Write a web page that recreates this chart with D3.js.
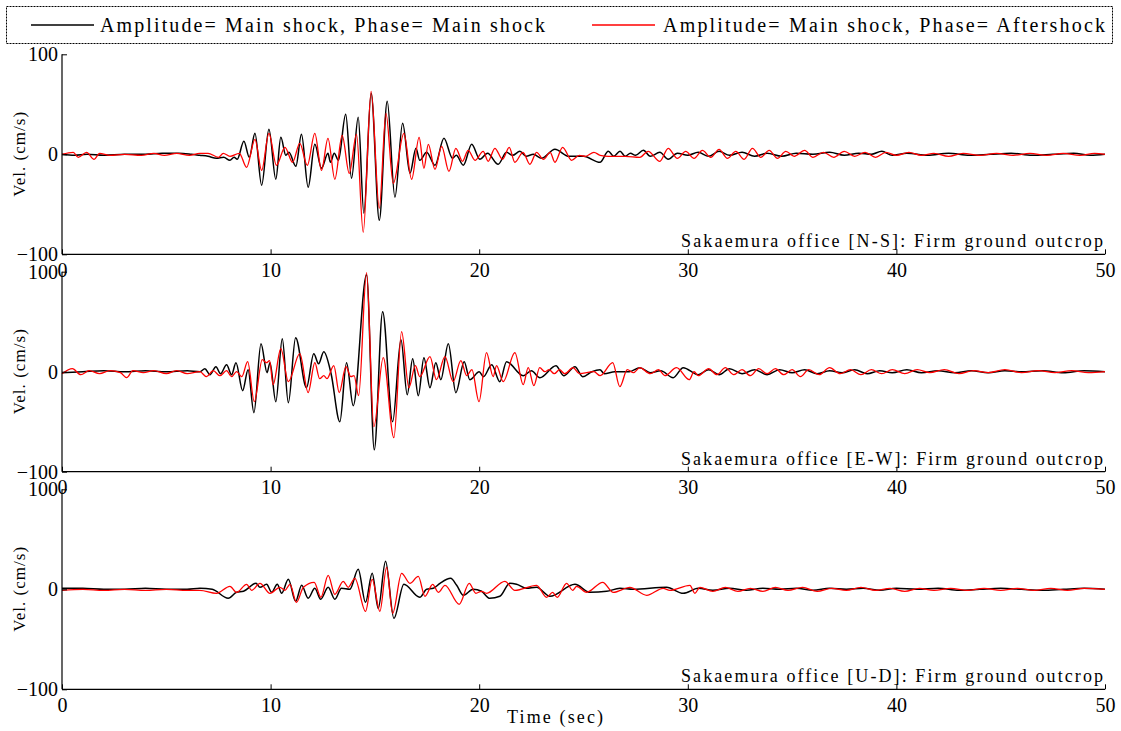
<!DOCTYPE html>
<html>
<head>
<meta charset="utf-8">
<script src="https://cdn.jsdelivr.net/npm/d3@7"></script>
<style>
  body { margin: 0; background: #fff; }
</style>
</head>
<body>
<svg id="chart" width="1121" height="731"></svg>
<script>
// Velocity waveforms, [time (s), velocity (cm/s)] at the turning points of each trace.
const nsMain = [[0,0],[0.6,-1],[1.2,0],[2.0,-1],[3.0,0],[4.0,0],[4.8,1],[5.6,1],[6.2,0],[6.6,-1],[7.0,-2],[7.4,-4],[7.75,-3],[8.05,-6],[8.25,-3],[8.4,-5],[8.72,13],[8.98,-3],[9.25,21],[9.57,-31],[9.92,25],[10.25,-25],[10.49,17],[10.73,-1],[10.88,2],[11.21,-12],[11.48,20],[11.8,-33],[12.12,10],[12.44,-14],[12.75,1],[12.87,-8],[13.05,1],[13.25,-6],[13.6,40],[13.88,-24],[14.2,37],[14.47,-59],[14.82,61],[15.21,-66],[15.59,53],[15.96,-43],[16.33,31],[16.68,-19],[16.97,6],[17.15,-6],[17.48,2],[17.88,-11],[18.31,16],[18.72,-4],[18.9,-1],[19.24,-11],[19.64,10],[20.03,-5],[20.4,1],[20.91,-10],[21.31,2],[21.6,-1],[21.95,3],[22.25,-2],[22.6,0],[22.99,-4],[23.63,5],[24.3,-2],[25.0,-2],[25.79,-8],[26.19,3],[26.45,-2],[26.75,3],[27.0,-2],[27.25,1],[27.5,-1],[27.87,4],[28.2,-2],[28.66,2],[29.06,-5],[29.5,1],[30.0,-1],[30.5,2],[31.0,-2],[31.5,3],[32.0,-1],[32.6,2],[33.2,-2],[33.8,1],[34.5,-2],[35.2,1],[36.0,0],[36.8,2],[37.5,-1],[38.2,1],[38.8,0],[39.3,3],[39.8,-1],[40.5,1],[41.5,-1],[42.5,1],[43.5,-1],[44.5,0],[45.5,1],[46.5,-1],[47.5,0],[48.5,1],[49.3,-1],[50,0]];
const nsAfter = [[0,0],[0.54,2],[0.78,-3],[1.18,2],[1.54,-5],[1.8,1],[2.3,-1],[3.0,0],[3.8,-1],[4.4,1],[4.9,-1],[5.5,1],[6.1,-1],[6.6,1],[7.0,1],[7.5,-3],[7.73,1],[8.05,-2],[8.5,1],[8.85,-13],[9.25,15],[9.57,-16],[9.92,21],[10.28,-11],[10.69,7],[11.05,-8],[11.4,11],[11.76,-11],[12.12,21],[12.44,-16],[12.75,16],[13.08,-25],[13.43,19],[13.77,-19],[14.12,20],[14.44,-78],[14.82,63],[15.21,-54],[15.53,41],[15.88,-29],[16.39,21],[16.76,-25],[17.12,17],[17.35,-14],[17.56,10],[17.88,-15],[18.2,8],[18.55,-17],[18.88,6],[19.2,-7],[19.47,4],[19.8,-6],[20.19,3],[20.43,-7],[20.75,6],[21.12,-5],[21.44,7],[21.71,-8],[22.1,2],[22.43,-10],[22.75,2],[23.08,-5],[23.4,2],[23.63,-8],[24.0,7],[24.43,-6],[24.8,-1],[25.1,-2],[25.5,2],[25.8,-1],[26.2,-2],[27.0,-2],[27.7,-3],[28.1,3],[28.66,-7],[29.06,6],[29.5,-4],[29.9,3],[30.3,-4],[30.7,4],[31.1,-3],[31.5,5],[31.9,-4],[32.3,3],[32.7,-5],[33.1,6],[33.5,-3],[33.9,4],[34.3,-4],[34.7,3],[35.1,-2],[35.6,4],[36.0,-3],[36.5,2],[37.0,-3],[37.5,3],[38.0,-2],[38.5,2],[39.0,-3],[39.5,2],[40.0,-1],[40.6,2],[41.2,-1],[41.8,1],[42.5,-2],[43.2,1],[44.0,-1],[44.8,1],[45.6,-1],[46.4,1],[47.2,-1],[48.0,1],[48.8,-1],[49.5,1],[50,0]];

const ewMain = [[0,-1],[1,0],[2,1],[3,0],[4,1],[5,0],[6,1],[6.61,0],[6.85,3],[7.09,-3],[7.38,5],[7.6,-2],[7.89,7],[8.13,-3],[8.34,9],[8.66,-19],[8.92,2],[9.2,-41],[9.54,28],[9.83,-1],[9.97,9],[10.25,-30],[10.56,33],[10.85,-31],[11.2,34],[11.72,-16],[12.07,18],[12.3,8],[12.55,20],[12.9,-2],[13.32,-50],[13.64,9],[13.96,-34],[14.6,97],[14.97,-78],[15.37,60],[15.85,-50],[16.25,32],[16.55,-23],[16.81,13],[17.08,-24],[17.35,14],[17.64,-16],[17.92,9],[18.16,-8],[18.52,28],[18.88,-21],[19.28,10],[19.55,-8],[20.0,0],[20.2,-5],[20.6,7],[20.99,-10],[21.31,10],[22.11,-4],[22.5,1],[22.91,-6],[23.68,6],[24.05,-4],[24.59,5],[24.96,-5],[25.4,0],[25.79,2],[26.0,-2],[26.5,0],[27.2,0],[27.7,4],[28.2,-1],[28.7,1],[29.3,-6],[29.78,4],[30.5,-3],[31.0,2],[31.5,-3],[32.0,3],[32.6,-2],[33.2,2],[33.8,-3],[34.4,2],[35.0,-1],[35.6,2],[36.2,-2],[36.8,1],[37.4,-1],[38.0,2],[38.6,-2],[39.2,1],[39.8,-1],[40.5,2],[41.2,-1],[42.0,1],[42.8,-1],[43.6,1],[44.4,-1],[45.2,1],[46.0,0],[47.0,1],[48.0,-1],[49.0,1],[50,0]];
const ewAfter = [[0,-2],[0.5,3],[0.9,-3],[1.3,1],[1.8,-2],[2.3,1],[2.8,-1],[3.1,-6],[3.4,1],[3.9,-1],[4.4,1],[5.0,-2],[5.5,1],[6.0,-2],[6.61,0],[6.93,-5],[7.25,1],[7.57,-4],[7.89,1],[8.13,-5],[8.37,0],[8.62,-5],[8.9,10],[9.22,-30],[9.6,12],[9.8,9],[9.95,11],[10.12,-13],[10.49,23],[10.85,-10],[11.4,18],[11.8,-21],[12.12,9],[12.35,-7],[12.55,-4],[12.7,-7],[13.03,6],[13.29,-21],[13.61,5],[13.85,-5],[14.0,-4],[14.22,-24],[14.6,99],[14.95,-55],[15.4,14],[15.91,-66],[16.28,40],[16.63,-16],[16.94,6],[17.15,-5],[17.64,15],[17.95,-8],[18.36,15],[18.75,-10],[19.12,11],[19.4,-4],[19.65,2],[19.99,-30],[20.35,19],[20.67,-5],[20.83,6],[21.15,-10],[21.71,19],[22.11,-13],[22.35,4],[22.62,-14],[22.9,4],[23.15,0],[23.35,2],[23.6,-2],[23.85,2],[24.1,-2],[24.5,4],[24.8,-2],[25.5,0],[25.8,-4],[26.4,9],[26.74,-15],[27.1,2],[27.4,-1],[27.7,4],[28.2,-2],[28.6,2],[28.9,-4],[29.46,4],[30.07,-8],[30.3,0],[30.5,-4],[31.0,3],[31.4,-3],[31.8,4],[32.2,-3],[32.6,2],[33.0,-4],[33.4,3],[33.8,-2],[34.2,3],[34.6,-3],[35.0,2],[35.4,-5],[35.8,2],[36.3,-3],[36.8,4],[37.3,-2],[37.8,2],[38.3,-3],[38.8,2],[39.3,-2],[39.8,2],[40.4,-2],[41.0,2],[41.6,-1],[42.3,2],[43.0,-2],[43.7,1],[44.4,-1],[45.2,2],[46.0,-1],[46.8,1],[47.6,-1],[48.4,1],[49.2,-1],[50,0]];

const udMain = [[0,1],[1,1],[2,0],[3,0],[4,1],[5,0],[6,0],[6.61,1],[7.2,0],[7.97,-9],[8.37,-3],[8.7,-2],[9.3,6],[9.49,2],[9.81,5],[10.05,-3],[10.32,5],[10.53,-4],[10.85,10],[11.2,-12],[11.49,4],[11.8,-9],[12.12,1],[12.4,-10],[12.76,2],[13.08,-10],[13.4,1],[13.8,0],[14.2,20],[14.55,-13],[14.87,16],[15.16,-19],[15.51,28],[15.91,-29],[16.39,5],[17.15,-8],[17.48,0],[17.8,1],[18.12,6],[18.63,11],[18.92,4],[19.24,-6],[19.71,0],[20.11,-2],[20.51,-9],[20.99,-7],[21.47,6],[21.79,5],[22.27,1],[22.75,2],[23.39,-7],[24.59,5],[25.31,-3],[26.11,-2],[26.75,1],[27.38,0],[28.98,2],[29.78,-4],[30.5,1],[31.2,-1],[32.0,1],[32.8,-1],[33.6,1],[34.4,0],[35.2,1],[36.0,-1],[36.8,1],[37.6,0],[38.4,1],[39.2,-1],[40.0,1],[41.0,0],[42.0,1],[43.0,-1],[44.0,0],[45.0,1],[46.0,0],[47.0,-1],[48.0,0],[49.0,1],[50,0]];
const udAfter = [[0,-1],[1,0],[2,-1],[3,0],[4,-1],[5,0],[6,-1],[6.61,-1],[7.41,-4],[8.05,3],[8.37,-3],[8.85,5],[9.09,-1],[9.49,6],[9.97,-4],[10.45,2],[10.69,-1],[10.93,5],[11.24,-13],[11.57,2],[12.09,7],[12.41,-8],[12.76,14],[13.08,-5],[13.48,8],[13.72,2],[14.04,11],[14.55,-22],[14.87,10],[15.24,-22],[15.56,22],[15.85,-24],[16.28,16],[16.68,6],[17.08,13],[17.4,-7],[17.77,5],[18.04,-3],[18.36,4],[19.04,-15],[19.52,6],[19.84,-4],[20.11,-2],[20.35,-4],[21.23,8],[21.71,-1],[22.75,4],[23.23,-8],[23.52,-3],[23.74,-8],[24.19,6],[24.48,-1],[24.67,3],[25.15,-3],[25.92,7],[26.43,-3],[27.22,2],[28.03,-6],[28.82,1],[29.14,-1],[30.1,4],[30.34,-4],[30.58,2],[31.2,-2],[31.8,2],[32.4,-2],[33.0,1],[33.6,-2],[34.2,2],[34.8,-1],[35.5,2],[36.2,-2],[36.9,1],[37.6,-1],[38.3,2],[39.0,-1],[39.7,1],[40.4,-2],[41.1,1],[41.8,-1],[42.6,1],[43.4,-1],[44.2,1],[45.0,-1],[45.8,1],[46.6,-1],[47.4,1],[48.2,-1],[49.0,1],[50,0]];

const panelTitles = ["Sakaemura office [N-S]: Firm ground outcrop",
                     "Sakaemura office [E-W]: Firm ground outcrop",
                     "Sakaemura office [U-D]: Firm ground outcrop"];
const legendLabels = ["Amplitude= Main shock, Phase= Main shock",
                      "Amplitude= Main shock, Phase= Aftershock"];
const xTicks = [0, 10, 20, 30, 40, 50];
const yTicks = [-100, 0, 100];
const yLabel = "Vel. (cm/s)";
const xLabel = "Time (sec)";

const panels = [
  { main: nsMain, after: nsAfter, title: panelTitles[0] },
  { main: ewMain, after: ewAfter, title: panelTitles[1] },
  { main: udMain, after: udAfter, title: panelTitles[2] }
];

const SERIF = "'Liberation Serif', 'Times New Roman', Times, serif";
const svg = d3.select("#chart");
const left = 62, right = 1105;
const panelTops = [54.3, 271.7, 489.3];
const panelH = 200;
const colors = { main: "#000000", after: "#ff0000" };

const x = d3.scaleLinear().domain([0, 50]).range([left, right]);

panels.forEach((p, i) => {
  const top = panelTops[i];
  const y = d3.scaleLinear().domain([-100, 100]).range([top + panelH, top]);
  const g = svg.append("g");

  const line = d3.line()
    .x(d => x(d[0]))
    .y(d => y(d[1]))
    .curve(d3.curveMonotoneX);

  g.append("path").datum(p.main)
    .attr("d", line).attr("fill", "none")
    .attr("stroke", colors.main).attr("stroke-width", 1.5)
    .attr("stroke-linejoin", "round");
  g.append("path").datum(p.after)
    .attr("d", line).attr("fill", "none")
    .attr("stroke", colors.after).attr("stroke-width", 1.3)
    .attr("stroke-linejoin", "round");

  // bottom axis with inward ticks
  const xAxis = d3.axisBottom(x).tickValues(xTicks).tickSize(-5).tickPadding(8)
    .tickFormat(d3.format("d"));
  const gx = g.append("g").attr("transform", `translate(0,${top + panelH})`).call(xAxis);
  gx.select(".domain").attr("stroke", "#000").attr("stroke-width", 1.2).attr("d", `M${left},0H${right}`);
  gx.selectAll(".tick line").attr("stroke", "#000");
  gx.selectAll(".tick text").style("font-family", SERIF).style("font-size", "20px")
    .attr("fill", "#000").attr("dy", "0.72em");

  // left axis with inward ticks
  const yAxis = d3.axisLeft(y).tickValues(yTicks).tickSize(-5).tickPadding(9)
    .tickFormat(d3.format("d"));
  const gy = g.append("g").attr("transform", `translate(${left},0)`).call(yAxis);
  gy.select(".domain").attr("stroke", "#000").attr("stroke-width", 1.2).attr("d", `M0,${top}V${top + panelH}`);
  gy.selectAll(".tick line").attr("stroke", "#000");
  gy.selectAll(".tick text").style("font-family", SERIF).style("font-size", "20px")
    .attr("fill", "#000").attr("x", -4);

  // station caption
  g.append("text")
    .attr("x", 1103).attr("y", top + panelH - 7)
    .attr("text-anchor", "end")
    .style("font-family", SERIF).style("font-size", "18px")
    .attr("textLength", 422).attr("lengthAdjust", "spacing")
    .text(p.title);

  // y label
  g.append("text")
    .attr("transform", `translate(25,${y(0)}) rotate(-90)`)
    .attr("text-anchor", "middle")
    .style("font-family", SERIF).style("font-size", "17px")
    .attr("textLength", 85).attr("lengthAdjust", "spacing")
    .text(yLabel);
});

svg.append("text")
  .attr("x", 555).attr("y", 723)
  .attr("text-anchor", "middle")
  .style("font-family", SERIF).style("font-size", "18px")
  .attr("textLength", 96).attr("lengthAdjust", "spacing")
  .text(xLabel);

// legend
const lg = svg.append("g");
lg.append("rect").attr("x", 6.5).attr("y", 6.5).attr("width", 1106).attr("height", 37)
  .attr("fill", "#fff").attr("stroke", "#000").attr("stroke-width", 1)
  .attr("stroke-dasharray", "2,1");
const legendItems = [
  { label: legendLabels[0], color: colors.main, x0: 31, x1: 94, tx: 100, tl: 445 },
  { label: legendLabels[1], color: colors.after, x0: 592, x1: 655, tx: 663, tl: 442 }
];
legendItems.forEach(it => {
  lg.append("line").attr("x1", it.x0).attr("x2", it.x1).attr("y1", 25).attr("y2", 25)
    .attr("stroke", it.color).attr("stroke-width", 1.4);
  lg.append("text").attr("x", it.tx).attr("y", 31.5)
    .style("font-family", SERIF).style("font-size", "20px")
    .attr("textLength", it.tl).attr("lengthAdjust", "spacing")
    .text(it.label);
});
</script>
</body>
</html>
